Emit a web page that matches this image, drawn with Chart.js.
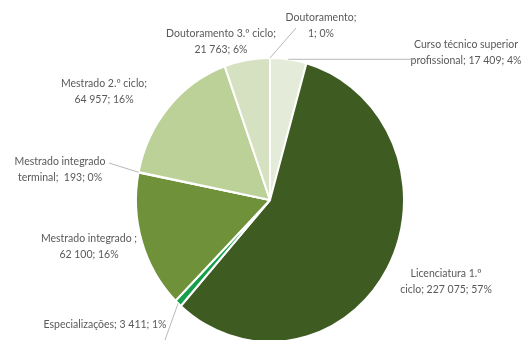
<!DOCTYPE html>
<html>
<head>
<meta charset="utf-8">
<script src="https://cdn.jsdelivr.net/npm/chart.js@4.4.0/dist/chart.umd.min.js"></script>
<style>
  html, body { margin: 0; background: #fff; }
  #wrap { width: 521px; height: 340px; position: relative; }
</style>
</head>
<body>
<div id="wrap"><canvas id="pie"></canvas></div>
<script>
// Inscritos por tipo de curso (ordem do sector, a partir do topo no sentido horário)
const categories = [
  'Curso técnico superior profissional',
  'Licenciatura 1.º ciclo',
  'Especializações',
  'Mestrado integrado',
  'Mestrado integrado terminal',
  'Mestrado 2.º ciclo',
  'Doutoramento 3.º ciclo',
  'Doutoramento'
];
const students = [17409, 227075, 3411, 62100, 193, 64957, 21763, 1];
const percents = [4, 57, 1, 16, 0, 16, 6, 0];

// texto das etiquetas, \n marca a quebra de linha
const labelTemplates = [
  'Curso técnico superior\nprofissional; {v}; {p}%',
  'Licenciatura 1.º\nciclo; {v}; {p}%',
  'Especializações; {v}; {p}%',
  'Mestrado integrado ;\n{v}; {p}%',
  'Mestrado integrado\nterminal;  {v}; {p}%',
  'Mestrado 2.º ciclo;\n{v}; {p}%',
  'Doutoramento 3.º ciclo;\n{v}; {p}%',
  'Doutoramento;\n{v}; {p}%'
];

const colors = ['#e4ecd9', '#3e5b22', '#15a04b', '#6f913a', '#a9c47f', '#bbd198', '#d5e1c1', '#eef3e6'];

// o sector sai ligeiramente mais alto do que largo
const STRETCH_Y = 1.06;

function fmt(n) {
  return String(n).replace(/\B(?=(\d{3})+(?!\d))/g, ' ');
}

// posição de cada etiqueta (centro da primeira linha) e ponta da linha de chamada
const labelSpots = [
  { x: 466, y: 45, leader: 'flat', to: 414 },
  { x: 446, y: 274 },
  { x: 105, y: 325, leader: [165, 340] },
  { x: 89, y: 239 },
  { x: 60, y: 162, leader: [109, 163] },
  { x: 104, y: 84 },
  { x: 221, y: 34 },
  { x: 321, y: 18, leader: [296, 28] }
];

const pieLabels = {
  id: 'pieLabels',
  beforeDatasetsDraw(chart) {
    const a = chart.chartArea;
    const cx = (a.left + a.right) / 2, cy = (a.top + a.bottom) / 2;
    const ctx = chart.ctx;
    ctx.save();
    ctx.translate(cx, cy);
    ctx.scale(1, STRETCH_Y);
    ctx.translate(-cx, -cy);
  },
  afterDatasetsDraw(chart) {
    const ctx = chart.ctx;
    ctx.restore();
    const arcs = chart.getDatasetMeta(0).data;
    ctx.save();
    ctx.font = '10.5px Lato, "Noto Sans", sans-serif';
    ctx.fillStyle = '#595959';
    ctx.textAlign = 'center';
    ctx.textBaseline = 'middle';
    arcs.forEach((arc, i) => {
      const spot = labelSpots[i];
      const text = labelTemplates[i]
        .replace('{v}', fmt(students[i]))
        .replace('{p}', percents[i]);
      text.split('\n').forEach((line, k) => {
        ctx.fillText(line, spot.x, spot.y + k * 15.5);
      });
      if (spot.leader) {
        const p = arc.getProps(['x', 'y', 'startAngle', 'endAngle', 'outerRadius'], true);
        const mid = (p.startAngle + p.endAngle) / 2;
        const ex = p.x + Math.cos(mid) * p.outerRadius;
        const ey = p.y + Math.sin(mid) * p.outerRadius * STRETCH_Y;
        const end = spot.leader === 'flat' ? [spot.to, ey] : spot.leader;
        ctx.strokeStyle = '#a6a6a6';
        ctx.lineWidth = 0.8;
        ctx.beginPath();
        ctx.moveTo(ex, ey);
        ctx.lineTo(end[0], end[1]);
        ctx.stroke();
      }
    });
    ctx.restore();
  }
};

new Chart(document.getElementById('pie'), {
  type: 'pie',
  data: {
    labels: categories,
    datasets: [{
      data: students,
      backgroundColor: colors,
      borderColor: '#ffffff',
      borderWidth: 2,
      offset: 0,
      hoverOffset: 0
    }]
  },
  options: {
    responsive: true,
    maintainAspectRatio: false,
    animation: false,
    radius: 134,
    layout: { padding: { left: 19, right: 0, top: 61, bottom: 1 } },
    plugins: {
      legend: { display: false },
      tooltip: { enabled: false }
    }
  },
  plugins: [pieLabels]
});
</script>
</body>
</html>
